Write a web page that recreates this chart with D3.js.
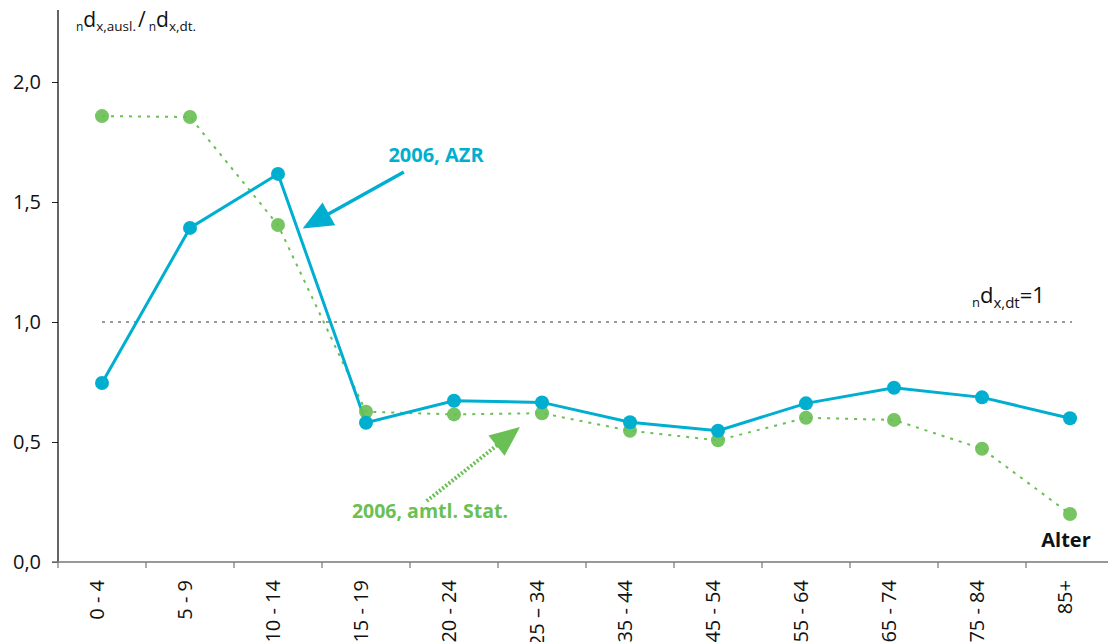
<!DOCTYPE html>
<html><head><meta charset="utf-8">
<script src="https://cdn.jsdelivr.net/npm/d3@7"></script>
<style>
html,body{margin:0;padding:0;background:#fff;}
svg{display:block;font-family:"Open Sans","Noto Sans",sans-serif;}
</style></head>
<body><svg id="c" width="1108" height="642"></svg>
<script>
const categories = ["0 - 4","5 - 9","10 - 14","15 - 19","20 - 24","25 \u2013 34","35 - 44","45 - 54","55 - 64","65 - 74","75 - 84","85+"];
const azr = [0.746,1.392,1.617,0.580,0.672,0.665,0.582,0.547,0.661,0.726,0.686,0.599];
const amtl = [1.858,1.854,1.404,0.626,0.615,0.620,0.547,0.507,0.601,0.592,0.472,0.200];
const yTicks = [0,0.5,1,1.5,2];
const refValue = 1;

const blue = "#00AFD0", green = "#6ABF55";
const svg = d3.select("#c");
const x = d3.scaleBand().domain(categories).range([58, 1114]).padding(0);
const y = d3.scaleLinear().domain([0, 2.3]).range([562, 10]);
const cx = c => x(c) + x.bandwidth()/2;
const xi = d3.scaleLinear().domain([0, categories.length-1]).range([cx(categories[0]), cx(categories[categories.length-1])]);

// y axis
const ya = svg.append("g").attr("transform","translate(58,0)")
  .call(d3.axisLeft(y).tickValues(yTicks).tickSize(6).tickPadding(11).tickFormat(d => d3.format(".1f")(d).replace(".",",")));
ya.select(".domain").remove();
ya.selectAll(".tick line").attr("stroke","#222");
ya.selectAll("text").attr("font-size",20).attr("fill","#111").attr("font-family","'Open Sans',sans-serif");
svg.append("line").attr("x1",58).attr("x2",58).attr("y1",y(2.3)).attr("y2",y(0)).attr("stroke","#111").attr("stroke-width",1.3);

// x axis
svg.append("line").attr("x1",52).attr("x2",1108).attr("y1",y(0)).attr("y2",y(0)).attr("stroke","#777").attr("stroke-width",1.3);
const xg = svg.append("g");
categories.forEach(c => {
  xg.append("line").attr("x1",x(c)).attr("x2",x(c)).attr("y1",y(0)).attr("y2",y(0)+6).attr("stroke","#777").attr("stroke-width",1.2);
  xg.append("text").attr("transform",`translate(${cx(c)-5},580) rotate(-90)`)
    .attr("text-anchor","end").attr("dy","0.35em").attr("font-size",20).attr("fill","#111").text(c);
});

// reference line
svg.append("line").attr("x1",cx(categories[0])).attr("x2",1072).attr("y1",y(refValue)).attr("y2",y(refValue))
  .attr("stroke","#333").attr("stroke-width",1).attr("stroke-dasharray","3,5");
const rl = svg.append("text").attr("x",972).attr("y",303).attr("fill","#111").attr("font-size",22);
rl.append("tspan").attr("font-size",13).attr("dy",4).text("n");
rl.append("tspan").attr("dy",-4).text("d");
rl.append("tspan").attr("font-size",15).attr("dy",5).text("x,dt");
rl.append("tspan").attr("dy",-5).text("=1");

// y title
const yt = svg.append("text").attr("x",76).attr("y",27).attr("fill","#111").attr("font-size",21);
yt.append("tspan").attr("font-size",12).attr("dy",4).text("n");
yt.append("tspan").attr("dy",-4).text("d");
yt.append("tspan").attr("font-size",13.5).attr("dy",4).text("x,ausl.");
yt.append("tspan").attr("dy",-4).attr("dx",2).text("/");
yt.append("tspan").attr("font-size",12).attr("dy",4).attr("dx",3).text("n");
yt.append("tspan").attr("dy",-4).text("d");
yt.append("tspan").attr("font-size",13.5).attr("dy",4).text("x,dt.");

// green series
const line = d3.line().x((d,i)=>cx(categories[i])).y(d=>y(d));
svg.append("path").datum(amtl).attr("d",line).attr("fill","none").attr("stroke",green)
  .attr("stroke-width",2).attr("stroke-dasharray","3,6");
// blue series
svg.append("path").datum(azr).attr("d",line).attr("fill","none").attr("stroke",blue).attr("stroke-width",3);
svg.append("g").selectAll("circle").data(amtl).join("circle")
  .attr("cx",(d,i)=>cx(categories[i])).attr("cy",d=>y(d)).attr("r",7).attr("fill",green).attr("fill-opacity",0.92);
svg.append("g").selectAll("circle").data(azr).join("circle")
  .attr("cx",(d,i)=>cx(categories[i])).attr("cy",d=>y(d)).attr("r",7).attr("fill",blue);

// arrows (positions in data space)
function arrow(i0,v0,i1,v1,color,dash,w,headL,headW){
  const x0=xi(i0),y0=y(v0),x1=xi(i1),y1=y(v1);
  const dx=x1-x0,dy=y1-y0,L=Math.hypot(dx,dy),ux=dx/L,uy=dy/L;
  const bx=x1-ux*headL, by=y1-uy*headL;
  svg.append("line").attr("x1",x0).attr("y1",y0).attr("x2",bx+ux*2).attr("y2",by+uy*2)
    .attr("stroke",color).attr("stroke-width",w).attr("stroke-dasharray",dash);
  svg.append("path").attr("d",`M${x1},${y1}L${bx-uy*headW/2},${by+ux*headW/2}L${bx+uy*headW/2},${by-ux*headW/2}Z`).attr("fill",color);
}
arrow(3.43,1.625,2.28,1.39,blue,null,3.5,30,26);
arrow(3.69,0.254,4.75,0.5625,green,"2,2",4,30,26);

svg.append("text").attr("x",436).attr("y",162).attr("text-anchor","middle").attr("font-weight","bold")
  .attr("font-size",20).attr("fill",blue).text("2006, AZR");
svg.append("text").attr("x",430).attr("y",518).attr("text-anchor","middle").attr("font-weight","bold")
  .attr("font-size",19.5).attr("fill",green).text("2006, amtl. Stat.");
svg.append("text").attr("x",1066).attr("y",547).attr("text-anchor","middle").attr("font-weight","bold")
  .attr("font-size",20).attr("fill","#111").text("Alter");
</script></body></html>
